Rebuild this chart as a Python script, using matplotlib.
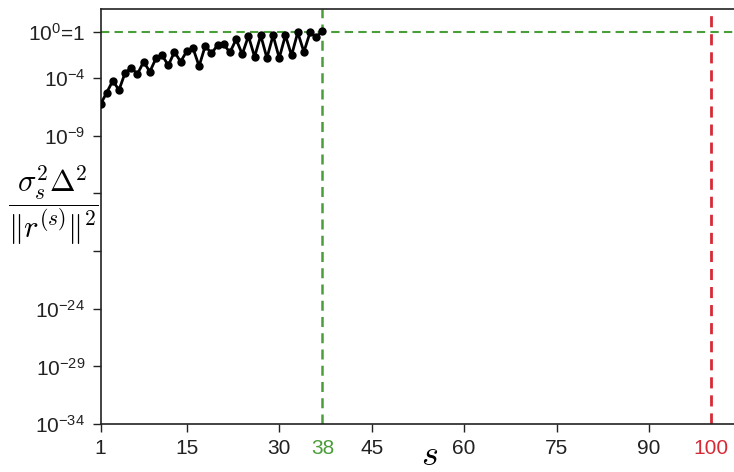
import numpy as np
import matplotlib
matplotlib.use('Agg')
import matplotlib.pyplot as plt
from matplotlib.ticker import NullLocator

plt.rcParams['font.family'] = ['Liberation Sans', 'DejaVu Sans']
plt.rcParams['mathtext.fontset'] = 'custom'
plt.rcParams['mathtext.rm'] = 'Liberation Sans'
plt.rcParams['mathtext.it'] = 'Liberation Sans:italic'

# ratio sigma_s^2 Delta^2 / ||r^(s)||^2 per step s
steps = np.arange(1, 38)
ratio = [5.4e-7, 5.5e-6, 6.0e-5, 9.3e-6, 3.0e-4, 7.6e-4, 2.3e-4, 2.7e-3,
         3.6e-4, 5.2e-3, 9.5e-3, 1.3e-3, 1.9e-2, 2.7e-3, 2.2e-2, 4.1e-2,
         1.1e-3, 6.5e-2, 1.4e-2, 7.4e-2, 8.5e-2, 1.7e-2, 0.23, 1.2e-2,
         0.45, 7.2e-3, 0.51, 5.6e-3, 0.51, 5.6e-3, 0.51, 9.5e-3, 0.93,
         1.9e-2, 0.93, 0.35, 1.29]

stop_step = 37          # where the green line sits
stop_label = '38'
max_step = 100
x_ticks = [1, 15, 30, 45, 60, 75, 90]
y_exps = [0, -4, -9, -14, -19, -24, -29, -34]
y_labels = [r'$10^0$=1', r'$10^{-4}$', r'$10^{-9}$', '', '',
            r'$10^{-24}$', r'$10^{-29}$', r'$10^{-34}$']

green = '#4a9e3a'
red = '#d62a35'

fig = plt.figure(figsize=(7.34, 4.72), dpi=100)
ax = fig.add_axes([100.5/734, 48/472, 641/734, 415/472])

ax.plot(steps, ratio, color='black', lw=2, marker='o', ms=5, zorder=3)
ax.axhline(1, color=green, ls=(0, (4, 2.5)), lw=1.5)
ax.axvline(stop_step, color=green, ls=(0, (4, 2.5)), lw=1.8)
ax.axvline(max_step, color=red, ls=(0, (4, 2.5)), lw=2)

ax.set_yscale('log')
ax.set_ylim(1e-34, 1e2)
ax.set_xlim(1, 105)
ax.set_yticks([10.0**e for e in y_exps])
ax.set_yticklabels(y_labels)
ax.yaxis.set_minor_locator(NullLocator())

xt = x_ticks + [stop_step, max_step]
xl = [str(t) for t in x_ticks] + [stop_label, str(max_step)]
ax.set_xticks(xt)
ax.set_xticklabels(xl)
ticks = ax.xaxis.get_major_ticks()
for t in ticks[-2:]:
    t.tick1line.set_visible(False)

ax.tick_params(direction='out', length=6, width=1, labelsize=15, pad=5,
               colors='#222222')
ax.get_xticklabels()[-2].set_color(green)
ax.get_xticklabels()[-1].set_color(red)

for side in ['top', 'left', 'bottom']:
    ax.spines[side].set_color('#222222')
    ax.spines[side].set_linewidth(1.2)
ax.spines['right'].set_visible(False)

ax.set_ylabel(r'$\dfrac{\sigma_s^2\Delta^2}{\|r^{(s)}\|^2}$', rotation=0,
              fontsize=22, ha='center', va='center', math_fontfamily='cm')
ax.yaxis.set_label_coords(-0.073, 0.528)
ax.set_xlabel(r'$s$', fontsize=26, math_fontfamily='cm', va='center')
ax.xaxis.set_label_coords(0.514, -0.075)

fig.savefig('out.png', dpi=100)
